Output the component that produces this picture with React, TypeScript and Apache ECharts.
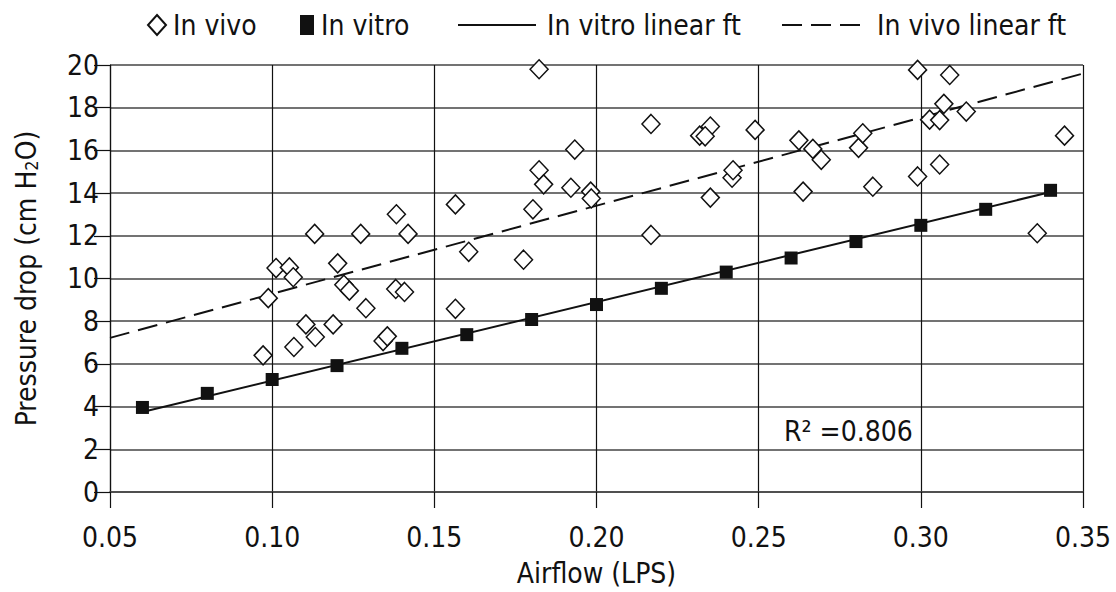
import React, { useEffect, useRef } from "react";
import * as echarts from "echarts";

const FONT = "'DejaVu Sans Condensed', 'Liberation Sans Narrow', 'DejaVu Sans', sans-serif";

const xTicks = [0.05, 0.1, 0.15, 0.2, 0.25, 0.3, 0.35];

const inVivoX = [
  0.0972, 0.0988, 0.1012, 0.1053, 0.1065, 0.1067, 0.1104, 0.1133, 0.1131, 0.1188,
  0.1202, 0.1221, 0.1238, 0.1273, 0.1289, 0.1342, 0.1355, 0.1383, 0.1381, 0.1408,
  0.1419, 0.1565, 0.1565, 0.1823, 0.1606, 0.1775, 0.1804, 0.1823, 0.1837, 0.1921,
  0.1933, 0.1982, 0.1984, 0.2168, 0.2168, 0.2318, 0.299, 0.3089, 0.2351, 0.2335,
  0.2351, 0.2418, 0.2421, 0.2489, 0.2624, 0.2637, 0.2667, 0.2693, 0.2808, 0.2821,
  0.2852, 0.299, 0.3027, 0.3058, 0.3071, 0.314, 0.3058, 0.3359, 0.3443,
];
const inVivoY = [
  6.4, 9.08, 10.49, 10.52, 10.06, 6.79, 7.85, 7.26, 12.09, 7.85,
  10.71, 9.71, 9.43, 12.09, 8.61, 7.07, 7.29, 13.01, 9.51, 9.37,
  12.09, 13.47, 8.58, 19.8, 11.25, 10.88, 13.24, 15.07, 14.41, 14.25,
  16.04, 14.07, 13.75, 17.24, 12.04, 16.69, 19.77, 19.53, 17.12, 16.66,
  13.79, 14.72, 15.07, 16.96, 16.47, 14.07, 16.07, 15.56, 16.12, 16.8,
  14.3, 14.78, 17.44, 17.42, 18.18, 17.82, 15.34, 12.12, 16.69,
];

const inVitroX = [0.06, 0.08, 0.1, 0.12, 0.14, 0.16, 0.18, 0.2, 0.22, 0.24, 0.26, 0.28, 0.3, 0.32, 0.34];
const inVitroY = [3.96, 4.62, 5.27, 5.92, 6.73, 7.37, 8.08, 8.78, 9.54, 10.3, 10.96, 11.73, 12.49, 13.24, 14.13];

const vitroFitX = [0.06, 0.34];
const vitroFitY = [3.75, 14.05];
const vivoFitX = [0.05, 0.35];
const vivoFitY = [7.22, 19.6];

const r2Text = "R\u00B2 =0.806";

const zip = (xs: number[], ys: number[]) => xs.map((x, i) => [x, ys[i]]);

export default function App() {
  const ref = useRef<HTMLDivElement>(null);
  useEffect(() => {
    if (!ref.current) return;
    const chart = echarts.init(ref.current, null, { renderer: "svg" });
    const legendText = { fontFamily: FONT, fontSize: 28, color: "#111" };
    chart.setOption({
      animation: false,
      backgroundColor: "#fff",
      textStyle: { fontFamily: FONT },
      legend: [
        {
          data: [{ name: "In vivo", icon: "diamond" }],
          left: 142, top: 6, itemWidth: 18, itemHeight: 20,
          textStyle: { ...legendText, padding: [0, 0, 0, 2] },
        },
        {
          data: [{ name: "In vitro", icon: "rect" }],
          left: 295, top: 6, itemWidth: 14, itemHeight: 20,
          textStyle: { ...legendText, padding: [0, 0, 0, 2] },
        },
        {
          data: ["In vitro linear ft"],
          left: 452, top: 6, itemWidth: 78, itemHeight: 20,
          itemStyle: { opacity: 0 },
          textStyle: { ...legendText, padding: [0, 0, 0, 6] },
        },
        {
          data: ["In vivo linear ft"],
          left: 776, top: 6, itemWidth: 84, itemHeight: 20,
          itemStyle: { opacity: 0 },
          textStyle: { ...legendText, padding: [0, 0, 0, 6] },
        },
      ],
      grid: { left: 110, right: 33, top: 65, bottom: 98, containLabel: false },
      xAxis: {
        type: "value",
        min: xTicks[0],
        max: xTicks[xTicks.length - 1],
        interval: 0.05,
        name: "Airflow (LPS)",
        nameLocation: "middle",
        nameGap: 67,
        nameTextStyle: { fontFamily: FONT, fontSize: 28, color: "#111" },
        axisLine: { show: true, lineStyle: { color: "#444", width: 1.5 } },
        axisTick: { show: true, length: 16, lineStyle: { color: "#111", width: 1.2 } },
        axisLabel: {
          margin: 31,
          fontFamily: FONT,
          fontSize: 28,
          color: "#111",
          formatter: (v: number) => v.toFixed(2),
        },
        splitLine: { show: true, lineStyle: { color: "#111", width: 1.2 } },
      },
      yAxis: {
        type: "value",
        min: 0,
        max: 20,
        interval: 2,
        name: "Pressure drop (cm H{sub|2}O)",
        nameLocation: "middle",
        nameGap: 70,
        nameTextStyle: {
          fontFamily: FONT,
          fontSize: 28,
          color: "#111",
          rich: {
            sub: { fontFamily: FONT, fontSize: 18, color: "#111", padding: [10, 0, 0, 0] },
          },
        },
        axisLine: { show: true, lineStyle: { color: "#111", width: 1.2 } },
        axisTick: { show: true, length: 16, lineStyle: { color: "#111", width: 1.2 } },
        axisLabel: { margin: 11, fontFamily: FONT, fontSize: 28, color: "#111" },
        splitLine: { show: true, lineStyle: { color: "#444", width: 1.5 } },
      },
      graphic: [
        {
          type: "text",
          left: 784,
          top: 417,
          style: {
            text: r2Text,
            fontFamily: FONT,
            fontSize: 28,
            fill: "#111",
          },
        },
      ],
      series: [
        {
          name: "In vitro linear ft",
          type: "line",
          data: zip(vitroFitX, vitroFitY),
          symbol: "none",
          lineStyle: { color: "#111", width: 2 },
          itemStyle: { color: "#111" },
          z: 2,
        },
        {
          name: "In vivo linear ft",
          type: "line",
          data: zip(vivoFitX, vivoFitY),
          symbol: "none",
          lineStyle: { color: "#111", width: 2, type: [20, 9] },
          itemStyle: { color: "#111" },
          z: 2,
        },
        {
          name: "In vitro",
          type: "scatter",
          data: zip(inVitroX, inVitroY),
          symbol: "rect",
          symbolSize: 13,
          itemStyle: { color: "#111", opacity: 1 },
          z: 3,
        },
        {
          name: "In vivo",
          type: "scatter",
          data: zip(inVivoX, inVivoY),
          symbol: "diamond",
          symbolSize: [18, 19],
          itemStyle: { color: "#fff", borderColor: "#111", borderWidth: 1.5, opacity: 1 },
          z: 4,
        },
      ],
    });
    return () => chart.dispose();
  }, []);
  return (
    <div
      ref={ref}
      style={{ position: "absolute", left: 0, top: 0, width: 1116, height: 592 }}
    />
  );
}
